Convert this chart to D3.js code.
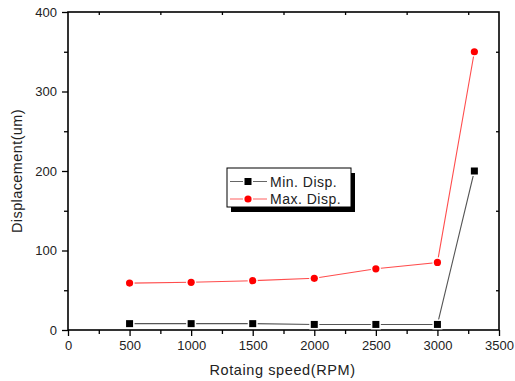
<!DOCTYPE html>
<html>
<head>
<meta charset="utf-8">
<script src="https://cdn.jsdelivr.net/npm/d3@7"></script>
<style>
  body { margin: 0; background: #fff; }
  text { font-family: "Liberation Sans", Arial, sans-serif; fill: #222; }
</style>
</head>
<body>
<svg id="chart" width="515" height="381"></svg>
<script>
// data
var speeds = [500, 1000, 1500, 2000, 2500, 3000, 3300];
var minDisp = [8, 8, 8, 7, 7, 7, 200];
var maxDisp = [59, 60, 62, 65, 77, 85, 350];
var xTicks = [0, 500, 1000, 1500, 2000, 2500, 3000, 3500];
var yTicks = [0, 100, 200, 300, 400];
var seriesNames = ["Min. Disp.", "Max. Disp."];

var svg = d3.select("#chart");
var plotL = 68, plotR = 499, plotT = 12, plotB = 330;

var x = d3.scaleLinear().domain([0, 3500]).range([plotL, plotR]);
var y = d3.scaleLinear().domain([0, 400]).range([plotB, plotT]);

function styleTicks(g) {
  g.select(".domain").remove();
  g.selectAll("line").attr("stroke", "#000").attr("stroke-width", 1.3);
  g.selectAll("text").attr("font-size", 13).attr("fill", "#333")
    .style("font-family", "Liberation Sans, Arial, sans-serif");
}

//AXES////////////////////////////
// bottom: major + minor outward
svg.append("g")
  .attr("transform", "translate(0," + plotB + ")")
  .call(d3.axisBottom(x).tickValues(d3.range(250, 3500, 500)).tickSize(4).tickFormat(""))
  .call(styleTicks);
svg.append("g")
  .attr("transform", "translate(0," + plotB + ")")
  .call(d3.axisBottom(x).tickValues(xTicks).tickSize(6).tickPadding(5).tickFormat(d3.format("d")))
  .call(styleTicks);

// left: major + minor outward
svg.append("g")
  .attr("transform", "translate(" + plotL + ",0)")
  .call(d3.axisLeft(y).tickValues([50, 150, 250, 350]).tickSize(4).tickFormat(""))
  .call(styleTicks);
svg.append("g")
  .attr("transform", "translate(" + plotL + ",0)")
  .call(d3.axisLeft(y).tickValues(yTicks).tickSize(6).tickPadding(5).tickFormat(d3.format("d")))
  .call(styleTicks);

// top + right: inward minor ticks only
svg.append("g")
  .attr("transform", "translate(0," + plotT + ")")
  .call(d3.axisBottom(x).tickValues(d3.range(250, 3500, 500)).tickSize(3).tickFormat(""))
  .call(styleTicks);
svg.append("g")
  .attr("transform", "translate(" + plotR + ",0)")
  .call(d3.axisLeft(y).tickValues([50, 150, 250, 350]).tickSize(3).tickFormat(""))
  .call(styleTicks);

// frame
svg.append("rect")
  .attr("x", plotL).attr("y", plotT)
  .attr("width", plotR - plotL).attr("height", plotB - plotT)
  .attr("fill", "none").attr("stroke", "#000").attr("stroke-width", 1.6);

// titles
svg.append("text")
  .attr("x", (plotL + plotR) / 2 - 1).attr("y", 375)
  .attr("text-anchor", "middle").attr("font-size", 14.5)
  .style("letter-spacing", "0.6px")
  .text("Rotaing speed(RPM)");
svg.append("text")
  .attr("transform", "translate(22," + (plotT + plotB) / 2 + ") rotate(-90)")
  .attr("text-anchor", "middle").attr("font-size", 14.5)
  .style("letter-spacing", "0.4px")
  .text("Displacement(um)");

//SERIES//////////////////////////
var line = d3.line().x(function (d) { return x(d[0]); }).y(function (d) { return y(d[1]); });
var minPts = speeds.map(function (s, i) { return [s, minDisp[i]]; });
var maxPts = speeds.map(function (s, i) { return [s, maxDisp[i]]; });

svg.append("path").datum(minPts).attr("d", line)
  .attr("fill", "none").attr("stroke", "#555").attr("stroke-width", 1.1);
svg.append("path").datum(maxPts).attr("d", line)
  .attr("fill", "none").attr("stroke", "#ff4d4d").attr("stroke-width", 1.1);

// markers with white halo so the line stops short of them
svg.selectAll(".sq").data(minPts).enter().append("rect")
  .attr("x", function (d) { return x(d[0]) - 3.5; })
  .attr("y", function (d) { return y(d[1]) - 3.5; })
  .attr("width", 7).attr("height", 7)
  .attr("fill", "#000").attr("stroke", "#fff").attr("stroke-width", 3)
  .attr("paint-order", "stroke");
svg.selectAll(".ci").data(maxPts).enter().append("circle")
  .attr("cx", function (d) { return x(d[0]); })
  .attr("cy", function (d) { return y(d[1]); })
  .attr("r", 3.6)
  .attr("fill", "#f00").attr("stroke", "#fff").attr("stroke-width", 3)
  .attr("paint-order", "stroke");

//LEGEND//////////////////////////
var lg = svg.append("g").attr("transform", "translate(227,168)");
lg.append("rect").attr("x", 4).attr("y", 5).attr("width", 124).attr("height", 39).attr("fill", "#000");
lg.append("rect").attr("x", 0).attr("y", 0).attr("width", 124).attr("height", 39)
  .attr("fill", "#fff").attr("stroke", "#000").attr("stroke-width", 1);
var legColors = ["#666", "#ff6060"];
seriesNames.forEach(function (name, i) {
  var yy = 13.5 + i * 17.5;
  lg.append("line").attr("x1", 3).attr("x2", 40).attr("y1", yy).attr("y2", yy)
    .attr("stroke", legColors[i]).attr("stroke-width", 1.1);
  if (i === 0) {
    lg.append("rect").attr("x", 17.5).attr("y", yy - 3.5).attr("width", 7).attr("height", 7)
      .attr("fill", "#000").attr("stroke", "#fff").attr("stroke-width", 3).attr("paint-order", "stroke");
  } else {
    lg.append("circle").attr("cx", 21).attr("cy", yy).attr("r", 3.6)
      .attr("fill", "#f00").attr("stroke", "#fff").attr("stroke-width", 3).attr("paint-order", "stroke");
  }
  lg.append("text").attr("x", 43).attr("y", yy + 5).attr("font-size", 14)
    .style("letter-spacing", "0.5px").text(name);
});
</script>
</body>
</html>
